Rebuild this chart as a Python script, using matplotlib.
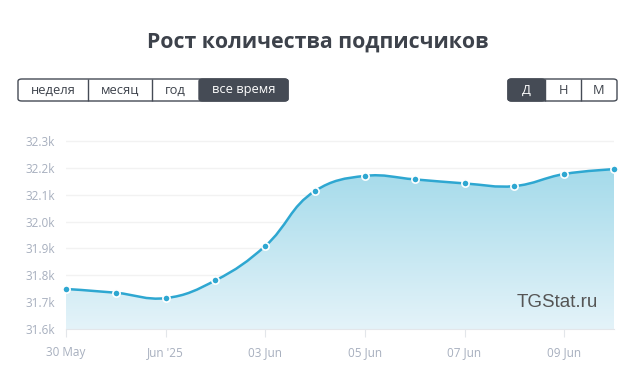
import numpy as np
import matplotlib
matplotlib.use('Agg')
import matplotlib.pyplot as plt
from matplotlib.path import Path
from matplotlib.patches import PathPatch, FancyBboxPatch, Rectangle

# data
days = np.arange(12)  # 30 May .. 10 Jun
subscribers = [31749, 31735, 31715, 31781, 31909, 32114,
               32170, 32157, 32142, 32132, 32177, 32195]
tick_days = [0, 2, 4, 6, 8, 10]
tick_labels = ['30 May', "Jun '25", '03 Jun', '05 Jun', '07 Jun', '09 Jun']
y_ticks = [31600, 31700, 31800, 31900, 32000, 32100, 32200, 32300]
y_labels = ['31.6k', '31.7k', '31.8k', '31.9k', '32.0k', '32.1k', '32.2k', '32.3k']
period_buttons = ['неделя', 'месяц', 'год', 'все время']
unit_buttons = ['Д', 'Н', 'М']

W, H = 636, 380
line_color = '#2ea7d1'
text_gray = '#a7afbe'
dark = '#454b55'

plt.rcParams['font.family'] = ['Open Sans', 'DejaVu Sans']

fig = plt.figure(figsize=(W / 100, H / 100), dpi=100)
ax = fig.add_axes([66 / W, (H - 329) / H, 548 / W, (329 - 127) / H])
ax.set_xlim(0, 11)
ax.set_ylim(31600, 32352)

# spline in pixel space (highcharts-like smoothing)
pts = ax.transData.transform(np.column_stack([days, subscribers]))
n = len(pts)
ctrl = []
for i in range(n):
    x, y = pts[i]
    if 0 < i < n - 1:
        lx, ly = pts[i - 1]
        rx, ry = pts[i + 1]
        lcx, lcy = x + (lx - x) / 2.5, y + (ly - y) / 2.5
        rcx, rcy = x + (rx - x) / 2.5, y + (ry - y) / 2.5
        la = np.arctan2(lcy - y, lcx - x)
        ra = np.arctan2(rcy - y, rcx - x)
        ja = (la + ra) / 2 + np.pi / 2
        if abs(la - ja) > np.pi / 2:
            ja -= np.pi
        dl = np.hypot(lcx - x, lcy - y)
        dr = np.hypot(rcx - x, rcy - y)
        left = (x + np.cos(ja) * dl, y + np.sin(ja) * dl)
        right = (x + np.cos(ja + np.pi) * dr, y + np.sin(ja + np.pi) * dr)
    else:
        left = right = (x, y)
    ctrl.append((left, right))

verts = [tuple(pts[0])]
codes = [Path.MOVETO]
for i in range(1, n):
    verts += [ctrl[i - 1][1], ctrl[i][0], tuple(pts[i])]
    codes += [Path.CURVE4] * 3
inv = ax.transData.inverted()
verts_data = inv.transform(np.array(verts))
line_path = Path(verts_data, codes)

# area fill with vertical gradient
fill_verts = np.vstack([verts_data, [[days[-1], 31600], [days[0], 31600], verts_data[0]]])
fill_codes = codes + [Path.LINETO, Path.LINETO, Path.CLOSEPOLY]
fill_patch = PathPatch(Path(fill_verts, fill_codes), facecolor='none', edgecolor='none',
                       transform=ax.transData)
ax.add_patch(fill_patch)
top_c = np.array([163, 218, 234]) / 255
bot_c = np.array([228, 243, 249]) / 255
t = np.linspace(0, 1, 256)[:, None]
grad = (top_c * (1 - t) + bot_c * t)[:, None, :]
im = ax.imshow(grad, extent=[0, 11, 31600, 32210], aspect='auto', origin='upper', zorder=1)
im.set_clip_path(fill_patch)

ax.add_patch(PathPatch(line_path, facecolor='none', edgecolor=line_color, lw=1.8, zorder=3,
                       capstyle='round', joinstyle='round'))
ax.plot(days, subscribers, 'o', ms=5.2, color=line_color, mec='white', mew=1.2,
        zorder=4, clip_on=False)

ax.set_yticks(y_ticks)
ax.set_yticklabels(y_labels)
ax.set_xticks(tick_days)
ax.set_xticklabels(tick_labels)
ax.grid(axis='y', color='#f2f2f2', lw=1, zorder=0)
ax.set_axisbelow(True)
for s in ['top', 'right', 'left']:
    ax.spines[s].set_visible(False)
ax.spines['bottom'].set_color('#e3e6ea')
ax.tick_params(axis='y', length=0, pad=8, labelsize=8.5, labelcolor=text_gray)
ax.tick_params(axis='x', length=6, color='#e3e6ea', pad=6, labelsize=8.5, labelcolor=text_gray)

ax.text(0.97, 0.09, 'TGStat.ru', transform=ax.transAxes, ha='right', va='bottom',
        fontsize=13.5, color='#555555', family='Liberation Sans', zorder=5)

fig.text(318 / W, 1 - 42 / H, 'Рост количества подписчиков', ha='center', va='center',
         fontsize=15.3, fontweight='bold', color='#3d424b')


def button_group(x0, edges, labels, active):
    y0, h = H - 101, 22
    total = edges[-1] - edges[0]
    fig.add_artist(FancyBboxPatch((x0 / W, y0 / H), total / W, h / H,
                                  boxstyle='round,pad=0,rounding_size=0.006',
                                  transform=fig.transFigure, facecolor='white',
                                  edgecolor=dark, lw=1, zorder=1))
    for i, lab in enumerate(labels):
        a, b = edges[i], edges[i + 1]
        if i == active:
            fig.add_artist(FancyBboxPatch((a / W, y0 / H), (b - a) / W, h / H,
                                          boxstyle='round,pad=0,rounding_size=0.006',
                                          transform=fig.transFigure, facecolor=dark,
                                          edgecolor=dark, lw=1, zorder=2))
        elif i > 0:
            fig.add_artist(Rectangle((a / W, y0 / H), 0, h / H, transform=fig.transFigure,
                                     edgecolor=dark, lw=1, zorder=2))
        fig.text((a + b) / 2 / W, (y0 + h / 2) / H, lab, ha='center', va='center',
                 fontsize=9.3, color='white' if i == active else '#3d424b', zorder=3)


button_group(18, [18, 88, 152, 199, 288], period_buttons, 3)
button_group(508, [508, 545, 581, 617], unit_buttons, 0)

fig.savefig('out.png', dpi=100, facecolor='white')
